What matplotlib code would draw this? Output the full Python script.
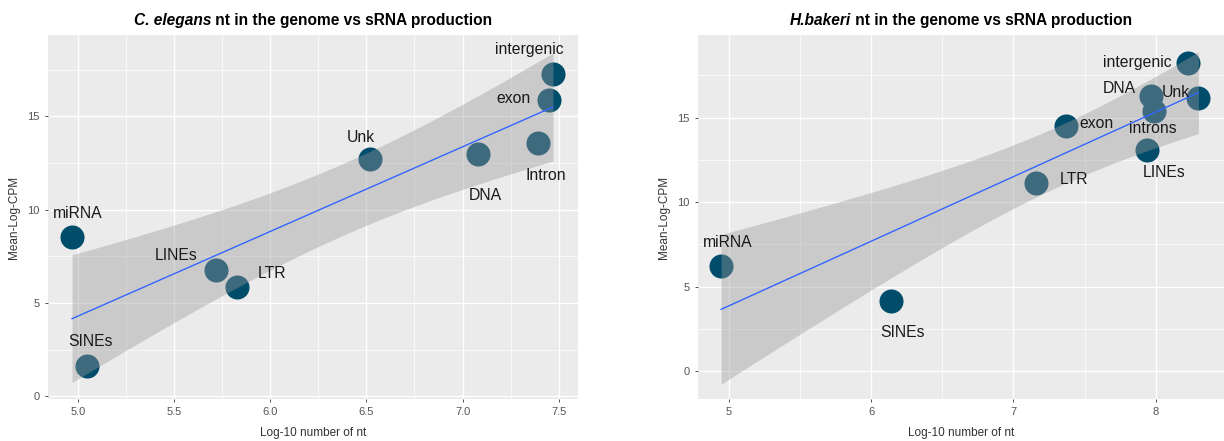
import numpy as np
import matplotlib
matplotlib.use("Agg")
import matplotlib.pyplot as plt
from matplotlib.offsetbox import TextArea, HPacker, AnnotationBbox

plt.rcParams["font.family"] = ["Liberation Sans", "DejaVu Sans"]

# C. elegans: log10 nt in genome vs mean log CPM
ce_labels = ["intergenic", "exon", "Intron", "DNA", "Unk", "miRNA", "LINEs", "LTR", "SINEs"]
ce_nt = [7.47, 7.45, 7.39, 7.08, 6.52, 4.97, 5.72, 5.83, 5.05]
ce_cpm = [17.3, 15.9, 13.6, 13.0, 12.7, 8.55, 6.75, 5.85, 1.65]

# H. bakeri
hb_labels = ["intergenic", "DNA", "Unk", "introns", "exon", "LINEs", "LTR", "miRNA", "SINEs"]
hb_nt = [8.23, 7.97, 8.30, 7.99, 7.37, 7.94, 7.16, 4.945, 6.14]
hb_cpm = [18.23, 16.29, 16.17, 15.40, 14.50, 13.08, 11.12, 6.24, 4.16]

# label offsets (points) relative to each point
ce_offsets = [(-17, 17), (-26, 1), (6, -24), (5, -30), (-7, 16), (4, 17), (-29, 11), (25, 10), (2, 17)]
hb_offsets = [(-37, 0), (-23, 5), (-16, 4), (-1, -13), (22, 2), (12, -16), (27, 3), (5, 17), (8, -23)]

POINT = "#004C6B"
T_975_DF7 = 2.3646


def lm_band(x, y, n=80):
    x = np.asarray(x)
    y = np.asarray(y)
    slope, intercept = np.polyfit(x, y, 1)
    resid = y - (slope * x + intercept)
    s = np.sqrt(np.sum(resid ** 2) / (len(x) - 2))
    sxx = np.sum((x - x.mean()) ** 2)
    xs = np.linspace(x.min(), x.max(), n)
    fit = slope * xs + intercept
    se = s * np.sqrt(1 / len(x) + (xs - x.mean()) ** 2 / sxx)
    return xs, fit, fit - T_975_DF7 * se, fit + T_975_DF7 * se


def style_axes(ax):
    ax.set_facecolor("#EBEBEB")
    for sp in ax.spines.values():
        sp.set_visible(False)
    ax.grid(True, which="major", color="white", linewidth=1.0)
    ax.grid(True, which="minor", color="white", linewidth=0.5)
    ax.set_axisbelow(True)
    ax.tick_params(which="major", length=2.5, color="#333333", labelsize=8,
                   labelcolor="#555555", width=0.6)
    ax.tick_params(which="minor", length=0)


def title(ax, italic_part, rest):
    parts = [TextArea(italic_part, textprops=dict(fontsize=11.2, weight="bold", style="italic")),
             TextArea(rest, textprops=dict(fontsize=11.2, weight="bold"))]
    box = HPacker(children=parts, align="baseline", pad=0, sep=0)
    ab = AnnotationBbox(box, (0.5, 1.019), xycoords="axes fraction",
                        box_alignment=(0.5, 0), frameon=False)
    ax.add_artist(ab)


def panel(ax, nt, cpm, labels, offsets, xticks, xticklabels, xlim, ylim):
    style_axes(ax)
    ax.scatter(nt, cpm, s=300, color=POINT, zorder=2, linewidths=0)
    xs, fit, lo, hi = lm_band(nt, cpm)
    ax.fill_between(xs, lo, hi, color="#999999", alpha=0.4, linewidth=0, zorder=3)
    ax.plot(xs, fit, color="#3366FF", linewidth=1.0, zorder=4)
    for x, y, lab, off in zip(nt, cpm, labels, offsets):
        ax.annotate(lab, (x, y), xytext=off, textcoords="offset points",
                    ha="center", va="center", fontsize=11.3, color="#1A1A1A", zorder=5)
    ax.set_xticks(xticks)
    ax.set_xticklabels(xticklabels)
    ax.set_yticks([0, 5, 10, 15])
    step = xticks[1] - xticks[0]
    ax.set_xticks(np.arange(xticks[0] - step / 2, xlim[1], step), minor=True)
    ax.set_yticks([2.5, 7.5, 12.5, 17.5], minor=True)
    # limits last, since set_xticks widens the view to fit the ticks
    ax.set_xlim(*xlim)
    ax.set_ylim(*ylim)
    ax.set_xlabel("Log-10 number of nt", fontsize=8.5, color="#333333", labelpad=7)
    ax.set_ylabel("Mean-Log-CPM", fontsize=8.5, color="#333333", labelpad=5)


fig = plt.figure(figsize=(12.24, 4.41), dpi=100)
ax1 = fig.add_axes([0.0392, 0.095, 0.433, 0.825])
ax2 = fig.add_axes([0.570, 0.095, 0.430, 0.825])

panel(ax1, ce_nt, ce_cpm, ce_labels, ce_offsets,
      [5.0, 5.5, 6.0, 6.5, 7.0, 7.5], ["5.0", "5.5", "6.0", "6.5", "7.0", "7.5"],
      (4.845, 7.6), (-0.15, 19.35))
title(ax1, "C. elegans", " nt in the genome vs sRNA production")

panel(ax2, hb_nt, hb_cpm, hb_labels, hb_offsets,
      [5, 6, 7, 8], ["5", "6", "7", "8"],
      (4.78, 8.48), (-1.64, 19.86))
title(ax2, "H.bakeri", " nt in the genome vs sRNA production")

fig.savefig("out.png", dpi=100)
